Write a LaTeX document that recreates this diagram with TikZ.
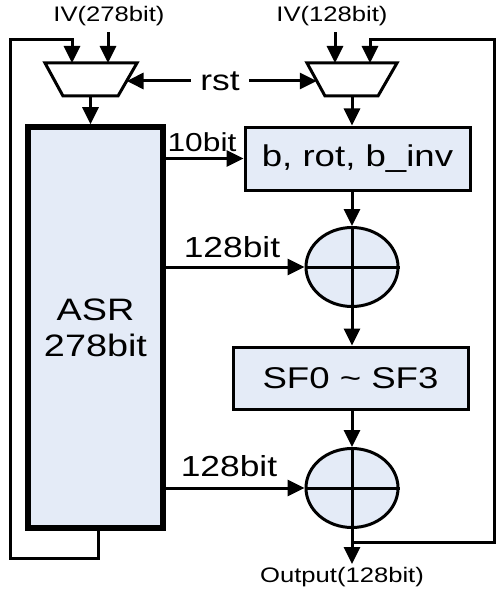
\documentclass[tikz,border=0pt]{standalone}
\usepackage{fontspec}
\setmainfont{Liberation Sans}
\usepackage{graphicx}
\usetikzlibrary{arrows.meta,shapes.geometric}
\definecolor{fillc}{RGB}{228,235,247}
\newcommand{\sx}[1]{\scalebox{1.22}[1]{#1}}
\begin{document}
\begin{tikzpicture}[x=1pt,y=-1pt,
  line width=3pt,
  arr/.style={-{Triangle[length=17pt,width=16pt]}},
  blk/.style={draw, fill=fillc, line width=3pt, inner sep=0pt},
  xorn/.style={ellipse, draw, fill=fillc, line width=3pt, minimum width=92pt, minimum height=79pt, inner sep=0pt},
  bigf/.style={font=\fontsize{30}{36}\selectfont},
  midf/.style={font=\fontsize{29}{34}\selectfont},
  smallf/.style={font=\fontsize{21}{25}\selectfont},
  muxs/.style={draw, line width=3pt, fill=white, line join=miter}
]
\useasboundingbox (0,0) rectangle (496,591);

% multiplexers
\draw[muxs] (45,63) -- (137,63) -- (118,96) -- (63,96) -- cycle;
\draw[muxs] (307,63) -- (397,63) -- (378,96) -- (325,96) -- cycle;
\coordinate (mLo) at (90.5,96);
\coordinate (mRo) at (352,96);
\coordinate (mLa) at (72,63);
\coordinate (mLb) at (108,63);
\coordinate (mRa) at (335,63);
\coordinate (mRb) at (370,63);
\coordinate (mLr) at (126.6,81);
\coordinate (mRl) at (316.8,81);

% blocks
\node[blk, line width=5.5pt, minimum width=135pt, minimum height=401pt, align=center, font=\fontsize{31}{36}\selectfont] (asr) at (95.5,327.5) {\sx{ASR}\\\sx{278bit}};
\node[blk, minimum width=225pt, minimum height=63pt, bigf] (brot) at (357.5,158.5) {\sx{b, rot, b\_inv}};
\node[blk, minimum width=235pt, minimum height=62pt, bigf] (sf) at (350.5,378) {\sx{SF0 \textasciitilde\ SF3}};
\node[xorn] (x1) at (352,267) {};
\node[xorn] (x2) at (352,488) {};
\draw (x1.west) -- (x1.east) (x1.north) -- (x1.south);
\draw (x2.west) -- (x2.east) (x2.north) -- (x2.south);

% texts
\node[smallf, inner sep=1pt] (ivL) at (109,16) {\sx{IV(278bit)}};
\node[smallf, inner sep=1pt] (ivR) at (332,16) {\sx{IV(128bit)}};
\node[midf, inner sep=8pt] (rst) at (220,81) {\sx{rst}};
\node[font=\fontsize{26}{30}\selectfont, inner sep=0pt] (l10) at (202,142) {\sx{10bit}};
\node[midf, inner sep=0pt] (l128a) at (232,247) {\sx{128bit}};
\node[midf, inner sep=0pt] (l128b) at (229,466) {\sx{128bit}};
\node[smallf, inner sep=0pt] (outl) at (342,577) {\sx{Output(128bit)}};
\coordinate (outtip) at (352,564);

% connectors
\draw[arr] (ivL.south -| mLb) ++(0,4) -- (mLb);
\draw[arr] (ivR.south -| mRa) ++(0,4) -- (mRa);
\draw[arr] (rst.west) -- (mLr);
\draw[arr] (rst.east) -- (mRl);
\draw[arr] (mLo) -- (mLo |- asr.north);
\draw[arr] (mRo) -- (mRo |- brot.north);
\draw[arr] (asr.east |- brot.west) -- (brot.west);
\draw[arr] (asr.east |- x1.west) -- (x1.west);
\draw[arr] (asr.east |- x2.west) -- (x2.west);
\draw[arr] (brot.south -| x1.north) -- (x1.north);
\draw[arr] (x1.south) -- (x1.south |- sf.north);
\draw[arr] (x2.north |- sf.south) -- (x2.north);
\draw[arr] (x2.south) -- (outtip);

% feedback loops
\coordinate (fbL) at (98,528);
\coordinate (fbR) at (352,542);
\draw[arr] (fbL) -- (98,558) -- (10,558) -- (10,40) -- (72,40) -- (mLa);
\draw[arr] (fbR) -- (494,542) -- (494,40) -- (370,40) -- (mRb);
\end{tikzpicture}
\end{document}
